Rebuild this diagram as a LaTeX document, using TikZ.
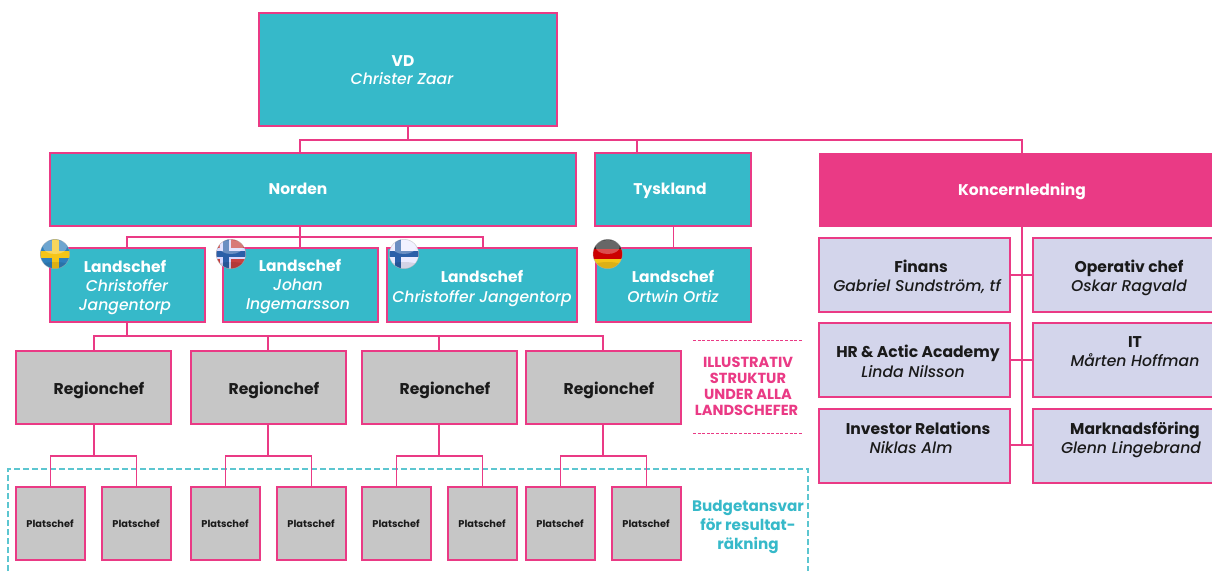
\documentclass[tikz,border=0pt]{standalone}
\usepackage{fontspec}
\setmainfont{Poppins}[ItalicFont={Poppins Medium Italic}]
\definecolor{teal}{HTML}{36B9C9}
\definecolor{pinkc}{HTML}{EA3A85}
\definecolor{greyb}{HTML}{C6C6C6}
\definecolor{lav}{HTML}{D3D5EB}
\definecolor{ink}{HTML}{1A1A1A}
\definecolor{dashteal}{HTML}{5CC6D0}
\definecolor{fblue}{HTML}{2F7FBC}
\definecolor{fyel}{HTML}{F5C518}
\definecolor{fred}{HTML}{C8403F}
\definecolor{fcross}{HTML}{2B5FA8}
\newcommand\bx[6]{\node[#1,minimum width={(#5-#3)*1pt},minimum height={(#6-#4)*1pt}] (#2) at ({(#3+#5)/2},{(#4+#6)/2}) {};}
\newcommand\tx[5]{\node[#1] (#2) at (#3,#4) {#5};}
\newcommand\flagball[3]{%
  \begin{scope}
    \clip (#1,#2) circle (14.7);
    #3
    \fill[white,opacity=.30] (#1,#2-7) ellipse (12 and 7);
    \fill[black,opacity=.10] (#1,#2+12) ellipse (15 and 4);
  \end{scope}
  \draw[black!30,opacity=.6,line width=.5pt] (#1,#2) circle (14.7);}
\tikzset{
  x=1pt,y=-1pt,
  boxbase/.style={rectangle,inner sep=0pt,outer sep=0pt,draw=pinkc,line width=1.25pt},
  tealbox/.style={boxbase,fill=teal},
  pinkbox/.style={rectangle,inner sep=0pt,outer sep=0pt,fill=pinkc},
  greybox/.style={boxbase,fill=greyb},
  lavbox/.style={boxbase,fill=lav},
  conn/.style={draw=pinkc,line width=1.25pt},
  txt/.style={anchor=base,inner sep=0pt},
  wb/.style={txt,text=white,font=\fontsize{15.5}{15.5}\selectfont\bfseries},
  wi/.style={txt,text=white,font=\fontsize{15.6}{15.6}\selectfont\itshape},
  kb/.style={txt,text=ink,font=\fontsize{15.6}{15.6}\selectfont\bfseries},
  ki/.style={txt,text=ink,font=\fontsize{15.6}{15.6}\selectfont\itshape},
  small/.style={txt,text=ink,font=\fontsize{9.8}{9.8}\selectfont\bfseries},
  pinkt/.style={txt,text=pinkc,font=\fontsize{14.6}{14.6}\selectfont\bfseries},
  tealt/.style={txt,text=teal,font=\fontsize{15.2}{15.2}\selectfont\bfseries},
  dashp/.style={draw=pinkc,line width=1.2pt,dash pattern=on 3pt off 1.6pt},
  dasht/.style={draw=dashteal,line width=1.1pt,dash pattern=on 6pt off 3pt},
}
\begin{document}
\begin{tikzpicture}
\useasboundingbox (0,0) rectangle (1212,571);
% dashed frame
\coordinate (fa) at (8,571);
\coordinate (fb) at (8,469);
\coordinate (fc) at (808,469);
\coordinate (fd) at (808,571);
\draw[dasht] (fa) -- (fb) -- (fc) -- (fd);
% boxes
\bx{tealbox}{vd}{259}{13}{557}{126}
\bx{tealbox}{norden}{50}{153}{576}{226}
\bx{tealbox}{tysk}{595}{153}{751}{226}
\bx{pinkbox}{koncern}{819}{153}{1212}{227}
\bx{tealbox}{ls}{50}{248}{205}{322}
\bx{tealbox}{ln}{223}{248}{378}{322}
\bx{tealbox}{lf}{387}{248}{577}{322}
\bx{tealbox}{lg}{596}{248}{751}{322}
\bx{greybox}{r1}{16}{351}{171}{424}
\bx{greybox}{r2}{191}{351}{346}{424}
\bx{greybox}{r3}{362}{351}{517}{424}
\bx{greybox}{r4}{526}{351}{681}{424}
\bx{greybox}{p1}{16}{487}{85}{560}
\bx{greybox}{p2}{102}{487}{171}{560}
\bx{greybox}{p3}{191}{487}{260}{560}
\bx{greybox}{p4}{277}{487}{346}{560}
\bx{greybox}{p5}{362}{487}{431}{560}
\bx{greybox}{p6}{448}{487}{517}{560}
\bx{greybox}{p7}{526}{487}{595}{560}
\bx{greybox}{p8}{612}{487}{681}{560}
\bx{lavbox}{finans}{819}{238}{1010}{312}
\bx{lavbox}{oper}{1033}{238}{1213}{312}
\bx{lavbox}{hr}{819}{323}{1010}{397}
\bx{lavbox}{it}{1033}{323}{1213}{397}
\bx{lavbox}{inv}{819}{409}{1010}{483}
\bx{lavbox}{mark}{1033}{409}{1213}{483}
% connectors
\coordinate (b1) at (408,140);
\coordinate (b1n) at (300,140);
\coordinate (b1t) at (637,140);
\coordinate (b1k) at (1022,140);
\draw[conn] (vd.south) -- (b1);
\draw[conn] (b1n |- norden.north) -- (b1n) -- (b1k) -- (b1k |- koncern.north);
\draw[conn] (b1t) -- (b1t |- tysk.north);
\coordinate (b2) at (300,237);
\coordinate (b2s) at (127,237);
\coordinate (b2f) at (483,237);
\draw[conn] (b2 |- norden.south) -- (b2 |- ln.north);
\draw[conn] (b2s |- ls.north) -- (b2s) -- (b2f) -- (b2f |- lf.north);
\draw[conn,line width=1.5pt] (tysk.south -| lg.north) -- (lg.north);
\coordinate (b3) at (127,336);
\coordinate (b31) at (94,336);
\coordinate (b32) at (268,336);
\coordinate (b33) at (439,336);
\coordinate (b34) at (603,336);
\draw[conn,line width=1.5pt] (b3 |- ls.south) -- (b3);
\draw[conn] (b31 |- r1.north) -- (b31) -- (b34) -- (b34 |- r4.north);
\draw[conn] (b32) -- (b32 |- r2.north);
\draw[conn] (b33) -- (b33 |- r3.north);
\foreach \r/\a/\b/\cx in {r1/p1/p2/94,r2/p3/p4/268,r3/p5/p6/439,r4/p7/p8/603}{
  \coordinate (c\r) at (\cx,456);
  \draw[conn] (c\r |- \r.south) -- (c\r);
  \draw[conn] (\a.north) -- (\a.north |- c\r) -- (\b.north |- c\r) -- (\b.north);
}
\coordinate (ktrunk) at (1022,445);
\draw[conn,line width=1.5pt] (ktrunk |- koncern.south) -- (ktrunk);
\coordinate (k1) at (1022,275);
\coordinate (k2) at (1022,360);
\draw[conn,line width=1.1pt] (k1 -| finans.east) -- (k1 -| oper.west);
\draw[conn,line width=1.1pt] (k2 -| hr.east) -- (k2 -| it.west);
\draw[conn,line width=1.1pt] (ktrunk -| inv.east) -- (ktrunk -| mark.west);
% labels
\tx{wb}{t1}{403}{66}{VD}
\tx{wi}{t2}{402}{84}{Christer Zaar}
\tx{wb}{t3}{298}{194}{Norden}
\tx{wb}{t4}{670}{194}{Tyskland}
\tx{wb}{t5}{1022}{195}{Koncernledning}
\tx{wb}{t6}{125}{272}{Landschef}
\tx{wi}{t7}{127}{291}{Christoffer}
\tx{wi}{t8}{125}{310}{Jangentorp}
\tx{wb}{t9}{300}{271}{Landschef}
\tx{wi}{t10}{298}{290}{Johan}
\tx{wi}{t11}{298}{309}{Ingemarsson}
\tx{wb}{t12}{482}{282}{Landschef}
\tx{wi}{t13}{482}{302}{Christoffer Jangentorp}
\tx{wb}{t14}{673}{282}{Landschef}
\tx{wi}{t15}{673}{302}{Ortwin Ortiz}
\tx{kb}{t16}{99}{394}{Regionchef}
\tx{kb}{t17}{274}{394}{Regionchef}
\tx{kb}{t18}{445}{394}{Regionchef}
\tx{kb}{t19}{609}{394}{Regionchef}
\foreach \x/\n in {50/1,136/2,225/3,311/4,396/5,482/6,560/7,646/8}{
  \node[small] (pl\n) at (\x,527) {Platschef};
}
\tx{kb}{t20}{921}{272}{Finans}
\tx{ki}{t21}{917}{291}{Gabriel Sundström, tf}
\tx{kb}{t22}{1129}{272}{Operativ chef}
\tx{ki}{t23}{1129}{291}{Oskar Ragvald}
\tx{kb}{t24}{918}{357}{HR \& Actic Academy}
\tx{ki}{t25}{913}{377}{Linda Nilsson}
\tx{kb}{t26}{1135}{347}{IT}
\tx{ki}{t27}{1135}{366}{Mårten Hoffman}
\tx{kb}{t28}{918}{434}{Investor Relations}
\tx{ki}{t29}{911}{453}{Niklas Alm}
\tx{kb}{t30}{1135}{434}{Marknadsföring}
\tx{ki}{t31}{1131}{453}{Glenn Lingebrand}
% side notes
\coordinate (d1a) at (693,340.5); \coordinate (d1b) at (803,340.5);
\coordinate (d2a) at (693,433.5); \coordinate (d2b) at (803,433.5);
\draw[dashp] (d1a) -- (d1b);
\draw[dashp] (d2a) -- (d2b);
\tx{pinkt}{n1}{748}{367}{ILLUSTRATIV}
\tx{pinkt}{n2}{748}{383}{STRUKTUR}
\tx{pinkt}{n3}{748}{399}{UNDER ALLA}
\tx{pinkt}{n4}{746.5}{415}{LANDSCHEFER}
\tx{tealt}{b1t1}{748}{511}{Budgetansvar}
\tx{tealt}{b1t2}{748}{530}{för resultat-}
\tx{tealt}{b1t3}{748}{549}{räkning}
% flags
\flagball{55}{254}{\fill[fblue] (35,235) rectangle (75,275);
  \fill[fyel] (40,250.5) rectangle (72,257.5);
  \fill[fyel] (51.5,235) rectangle (58.5,275);}
\flagball{231}{254}{\fill[fred] (212,235) rectangle (250,275);
  \fill[white!85!blue] (212,248) rectangle (250,259);
  \fill[white!85!blue] (220,235) rectangle (231,275);
  \fill[fcross] (212,250.5) rectangle (250,256.5);
  \fill[fcross] (222.5,235) rectangle (228.5,275);}
\flagball{404}{254}{\fill[white!92!blue] (385,235) rectangle (425,275);
  \fill[fcross] (385,250.5) rectangle (425,256.5);
  \fill[fcross] (395,235) rectangle (401,275);}
\flagball{607.7}{254}{\fill[black!85] (590,235) rectangle (625,249);
  \fill[red!80!black] (590,249) rectangle (625,259);
  \fill[fyel] (590,259) rectangle (625,275);}
\end{tikzpicture}
\end{document}
